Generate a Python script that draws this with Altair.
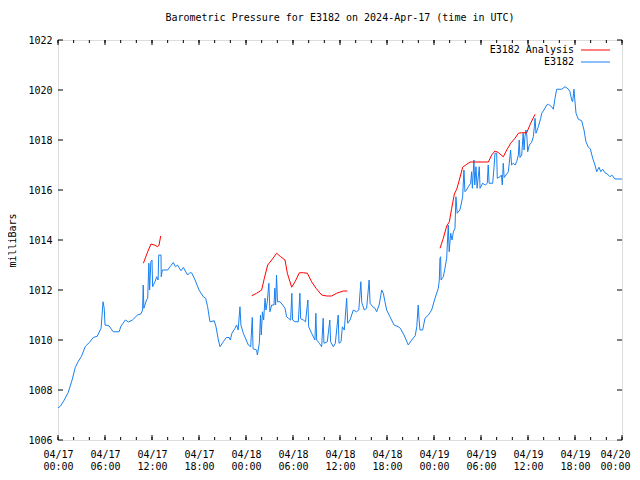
import altair as alt
import pandas as pd

# ---- data (hours since 2024-04-17 00:00 UTC, pressure in mbar) ----
obs_hours = [0.0, 0.3, 0.8, 1.3, 1.8, 2.2, 2.6, 3.0, 3.5, 4.0, 4.5, 5.0, 5.5, 5.75, 5.9, 6.0, 6.5, 7.05, 7.8, 8.05,
             8.6, 9.0, 9.5, 10.15, 10.6, 10.8, 10.88, 10.96, 11.3, 11.45, 11.6, 11.7, 11.85, 12.0, 12.08, 12.38,
             12.6, 12.78, 12.86, 13.15, 13.18, 13.32, 14.0, 14.3, 14.72, 15.0, 15.25, 15.7, 16.0, 16.55, 16.85,
             17.1, 17.5, 18.0, 18.55, 18.85, 19.1, 19.4, 19.95, 20.17, 20.47, 20.68, 21.1, 21.5, 21.85, 22.0,
             22.2, 22.6, 22.8, 23.0, 23.23, 23.35, 23.66, 24.3, 24.6, 24.8, 24.9, 25.36, 25.45, 25.7, 25.85,
             25.95, 26.1, 26.25, 26.43, 26.55, 26.72, 26.92, 27.05, 27.28, 27.57, 27.68, 27.78, 27.9, 28.02,
             28.34, 28.68, 28.98, 29.19, 29.4, 29.7, 29.85, 29.95, 30.26, 30.68, 30.88, 30.98, 31.32, 31.6,
             31.9, 32.0, 32.38, 32.8, 32.92, 33.02, 33.36, 33.66, 33.85, 33.95, 34.38, 34.7, 34.8, 35.15, 35.4,
             35.77, 35.87, 36.13, 36.3, 36.55, 36.85, 36.98, 37.28, 37.7, 38.1, 38.4, 38.66, 38.78, 39.1, 39.4,
             39.72, 39.84, 40.17, 40.47, 40.68, 41.0, 41.32, 41.53, 41.74, 41.96, 42.38, 42.9, 43.45, 43.7,
             44.17, 44.72, 45.15, 45.6, 45.8, 45.98, 46.1, 46.21, 46.55, 46.85, 47.28, 47.7, 48.13, 48.55,
             48.68, 48.76, 48.85, 48.9, 49.19, 49.4, 49.62, 49.82, 49.94, 50.13, 50.3, 50.47, 50.68, 50.8,
             50.96, 51.3, 51.45, 51.66, 51.82, 51.95, 52.15, 52.38, 52.68, 52.8, 52.9, 53.1, 53.2, 53.36, 53.5,
             53.78, 53.88, 54.21, 54.55, 54.8, 54.92, 55.04, 55.49, 55.66, 55.79, 56.0, 56.08, 56.43, 56.6,
             56.72, 56.84, 56.96, 57.19, 57.49, 57.78, 57.9, 58.13, 58.35, 58.55, 58.77, 58.88, 58.98, 59.2,
             59.38, 59.5, 59.6, 59.74, 59.85, 59.96, 60.17, 60.45, 60.68, 60.81, 60.9, 61.02, 61.32, 61.62,
             61.75, 62.04, 62.38, 62.6, 63.02, 63.23, 63.45, 63.66, 64.3, 64.72, 65.15, 65.36, 65.58, 65.7,
             65.87, 65.98, 66.13, 66.43, 66.85, 67.15, 67.4, 67.7, 67.95, 68.26, 68.55, 68.77, 69.06, 69.3,
             69.53, 69.83, 70.13, 70.47, 70.7, 71.11, 72.0]
obs_values = [1007.28, 1007.35, 1007.6, 1007.9, 1008.4, 1008.9, 1009.15, 1009.35, 1009.75, 1009.9, 1010.1, 1010.15,
              1010.47, 1011.53, 1011.27, 1010.6, 1010.57, 1010.33, 1010.33, 1010.56, 1010.8, 1010.72, 1010.8,
              1011.0, 1011.05, 1011.2, 1012.2, 1011.27, 1011.6, 1011.67, 1013.07, 1012.0, 1013.13, 1013.2,
              1012.13, 1012.33, 1012.53, 1012.4, 1013.4, 1013.4, 1012.53, 1012.8, 1012.8, 1012.93, 1013.1,
              1012.93, 1013.0, 1012.77, 1012.9, 1012.6, 1012.7, 1012.67, 1012.4, 1012.0, 1011.73, 1011.67,
              1011.33, 1010.73, 1010.77, 1010.53, 1010.0, 1009.73, 1009.93, 1010.1, 1010.1, 1010.0, 1010.27,
              1010.47, 1010.6, 1010.4, 1011.33, 1010.6, 1010.27, 1009.8, 1009.73, 1010.9, 1009.65, 1009.6,
              1009.4, 1009.87, 1011.0, 1010.2, 1011.13, 1010.8, 1011.67, 1011.2, 1011.53, 1012.27, 1011.13,
              1011.4, 1011.4, 1012.07, 1011.4, 1012.6, 1011.53, 1011.53, 1011.4, 1011.27, 1010.93, 1010.87,
              1010.8, 1011.87, 1010.8, 1010.73, 1010.73, 1011.87, 1010.85, 1010.8, 1010.73, 1011.6, 1010.53,
              1010.27, 1010.0, 1011.07, 1010.0, 1009.87, 1009.73, 1010.87, 1009.87, 1009.93, 1010.8, 1009.93,
              1009.73, 1009.87, 1011.0, 1009.87, 1009.93, 1010.53, 1010.4, 1011.67, 1010.67, 1010.8, 1011.2,
              1011.13, 1011.2, 1012.33, 1011.5, 1011.2, 1011.27, 1012.4, 1011.47, 1011.33, 1011.27, 1011.13,
              1011.4, 1012.0, 1011.87, 1011.53, 1011.2, 1010.93, 1010.6, 1010.53, 1010.47, 1010.2, 1009.8,
              1010.0, 1010.17, 1010.53, 1011.4, 1010.8, 1010.4, 1010.4, 1010.87, 1011.0, 1011.2, 1011.67,
              1012.07, 1012.4, 1013.27, 1013.33, 1012.4, 1012.53, 1012.87, 1013.27, 1014.6, 1013.53, 1014.27,
              1014.0, 1014.33, 1014.47, 1015.73, 1015.07, 1015.2, 1015.4, 1015.73, 1016.8, 1015.93, 1016.0,
              1016.13, 1016.27, 1016.73, 1016.07, 1017.2, 1016.2, 1016.93, 1016.07, 1016.93, 1016.07, 1016.27,
              1016.2, 1016.27, 1017.0, 1016.27, 1016.27, 1016.9, 1017.47, 1017.47, 1016.47, 1016.53, 1016.6,
              1016.2, 1017.07, 1016.5, 1016.6, 1016.73, 1017.6, 1017.0, 1017.07, 1017.0, 1017.13, 1017.4,
              1018.0, 1017.3, 1017.4, 1018.27, 1017.6, 1018.1, 1018.4, 1018.2, 1017.53, 1017.8, 1017.9,
              1018.13, 1018.53, 1018.87, 1018.27, 1018.53, 1018.87, 1019.07, 1019.2, 1019.4, 1019.43,
              1019.33, 1019.23, 1019.67, 1020.03, 1020.03, 1020.13, 1020.04, 1019.93, 1019.6, 1019.53,
              1020.03, 1019.6, 1019.07, 1018.83, 1018.77, 1018.4, 1017.93, 1017.71, 1017.65, 1017.27, 1017.0,
              1016.73, 1016.91, 1016.73, 1016.83, 1016.69, 1016.64, 1016.53, 1016.6, 1016.44, 1016.44]

ana_seg1_hours = [10.9, 11.45, 11.87, 12.3, 12.72, 12.9, 13.11]
ana_seg1_values = [1013.07, 1013.53, 1013.84, 1013.8, 1013.73, 1013.8, 1014.16]
ana_seg2_hours = [24.72, 25.36, 26.0, 26.34, 26.77, 27.28, 27.91, 28.43, 28.98, 29.28, 29.83, 30.26, 30.81,
                  31.32, 31.83, 32.38, 32.94, 33.66, 34.3, 34.94, 35.57, 36.42, 36.94]
ana_seg2_values = [1011.77, 1011.87, 1012.0, 1012.47, 1013.0, 1013.2, 1013.47, 1013.33, 1013.2, 1012.67,
                   1012.11, 1012.33, 1012.69, 1012.69, 1012.67, 1012.33, 1012.07, 1011.8, 1011.76, 1011.76,
                   1011.87, 1011.96, 1011.96]
ana_seg3_hours = [48.77, 49.19, 49.62, 49.96, 50.26, 50.6, 50.9, 51.23, 51.66, 52.09, 52.6, 54.94, 55.36,
                  55.79, 56.2, 56.85, 57.28, 57.79, 58.34, 58.77, 59.19, 59.83, 60.34, 60.9]
ana_seg3_values = [1013.67, 1014.07, 1014.56, 1014.73, 1015.27, 1015.84, 1016.03, 1016.4, 1016.91, 1017.01,
                   1017.12, 1017.12, 1017.4, 1017.56, 1017.5, 1017.33, 1017.6, 1017.87, 1018.07, 1018.27,
                   1018.29, 1018.29, 1018.67, 1019.03]

x_major = list(range(0, 73, 6))
x_minor = list(range(0, 73, 2))
y_major = list(range(1006, 1023, 2))

title_text = "Barometric Pressure for E3182 on 2024-Apr-17 (time in UTC)"
y_title = "milliBars"
legend_labels = ["E3182 Analysis", "E3182"]
RED = "#ff0000"
BLUE = "#1a80f0"
FONT = "DejaVu Sans Mono"
W, H = 564, 400

obs = pd.DataFrame({"hour": obs_hours, "mbar": obs_values})
ana = pd.concat([
    pd.DataFrame({"hour": ana_seg1_hours, "mbar": ana_seg1_values, "seg": 1}),
    pd.DataFrame({"hour": ana_seg2_hours, "mbar": ana_seg2_values, "seg": 2}),
    pd.DataFrame({"hour": ana_seg3_hours, "mbar": ana_seg3_values, "seg": 3}),
])

xscale = alt.Scale(domain=[0, 72], nice=False, zero=False)
yscale = alt.Scale(domain=[1006, 1022], nice=False, zero=False)

label_expr = ("['04/' + (17 + floor(datum.value / 24)), "
              "(datum.value % 24 < 10 ? '0' : '') + (datum.value % 24) + ':00']")

X_AX = alt.Axis(values=x_major, labelExpr=label_expr, ticks=False, domain=False, grid=False,
                labelFont=FONT, labelFontSize=10, labelColor="black", labelPadding=9,
                labelLineHeight=12, labelBaseline="top", labelOverlap=False, labelFlush=False,
                labelOffset={"condition": {"test": "datum.value == 72", "value": -7}, "value": 0})
Y_AX = alt.Axis(values=y_major, ticks=False, domain=False, grid=False, labelFont=FONT,
                labelFontSize=10, labelColor="black", labelPadding=6, labelOverlap=False,
                labelFlush=False, format="d",
                titleFont=FONT, titleFontSize=10, titleFontWeight="normal", titleColor="black",
                titlePadding=10)


def X(field):
    return alt.X(field, scale=xscale, title="", axis=X_AX)


def Y(field):
    return alt.Y(field, scale=yscale, title=y_title, axis=Y_AX)


blue = alt.Chart(obs).mark_line(color=BLUE, strokeWidth=1).encode(x=X("hour:Q"), y=Y("mbar:Q"))

red = alt.Chart(ana).mark_line(color=RED, strokeWidth=1).encode(
    x=X("hour:Q"), y=Y("mbar:Q"), detail="seg:N")

xmaj = pd.DataFrame({"hour": x_major})
xmin = pd.DataFrame({"hour": x_minor})
ymaj = pd.DataFrame({"mbar": y_major})


def xticks(df, size):
    base = alt.Chart(df).mark_rule(color="black", strokeWidth=1)
    bot = base.encode(x=X("hour:Q"), y=alt.value(H), y2=alt.value(H - size))
    top = base.encode(x=X("hour:Q"), y=alt.value(0), y2=alt.value(size))
    return [bot, top]


ytick_base = alt.Chart(ymaj).mark_rule(color="black", strokeWidth=1)
yl = ytick_base.encode(y=Y("mbar:Q"), x=alt.value(0), x2=alt.value(5))
yr = ytick_base.encode(y=Y("mbar:Q"), x=alt.value(W), x2=alt.value(W - 5))


def leg_text(label, ypix):
    return alt.Chart(pd.DataFrame({"label": [label]})).mark_text(
        align="right", baseline="middle", font=FONT, fontSize=10, color="black").encode(
        text="label:N", x=alt.value(516), y=alt.value(ypix))


def leg_line(label, color, ypix):
    return alt.Chart(pd.DataFrame({"label": [label]})).mark_rule(color=color, strokeWidth=1).encode(
        x=alt.value(523), x2=alt.value(552), y=alt.value(ypix))


chart = alt.layer(
    blue, red, *xticks(xmaj, 5), *xticks(xmin, 3), yl, yr,
    leg_text(legend_labels[0], 10), leg_text(legend_labels[1], 22),
    leg_line(legend_labels[0], RED, 10), leg_line(legend_labels[1], BLUE, 22),
).properties(
    width=W, height=H,
    title=alt.TitleParams(title_text, font=FONT, fontSize=10, fontWeight="normal", color="black",
                          anchor="middle", offset=12),
    autosize=alt.AutoSizeParams(type="none"),
    padding={"left": 50, "top": 32, "right": 10, "bottom": 32},
).configure_view(stroke="black", strokeWidth=1).configure(background="white")

chart.save("out.html", embed_options={"renderer": "svg", "actions": False})
